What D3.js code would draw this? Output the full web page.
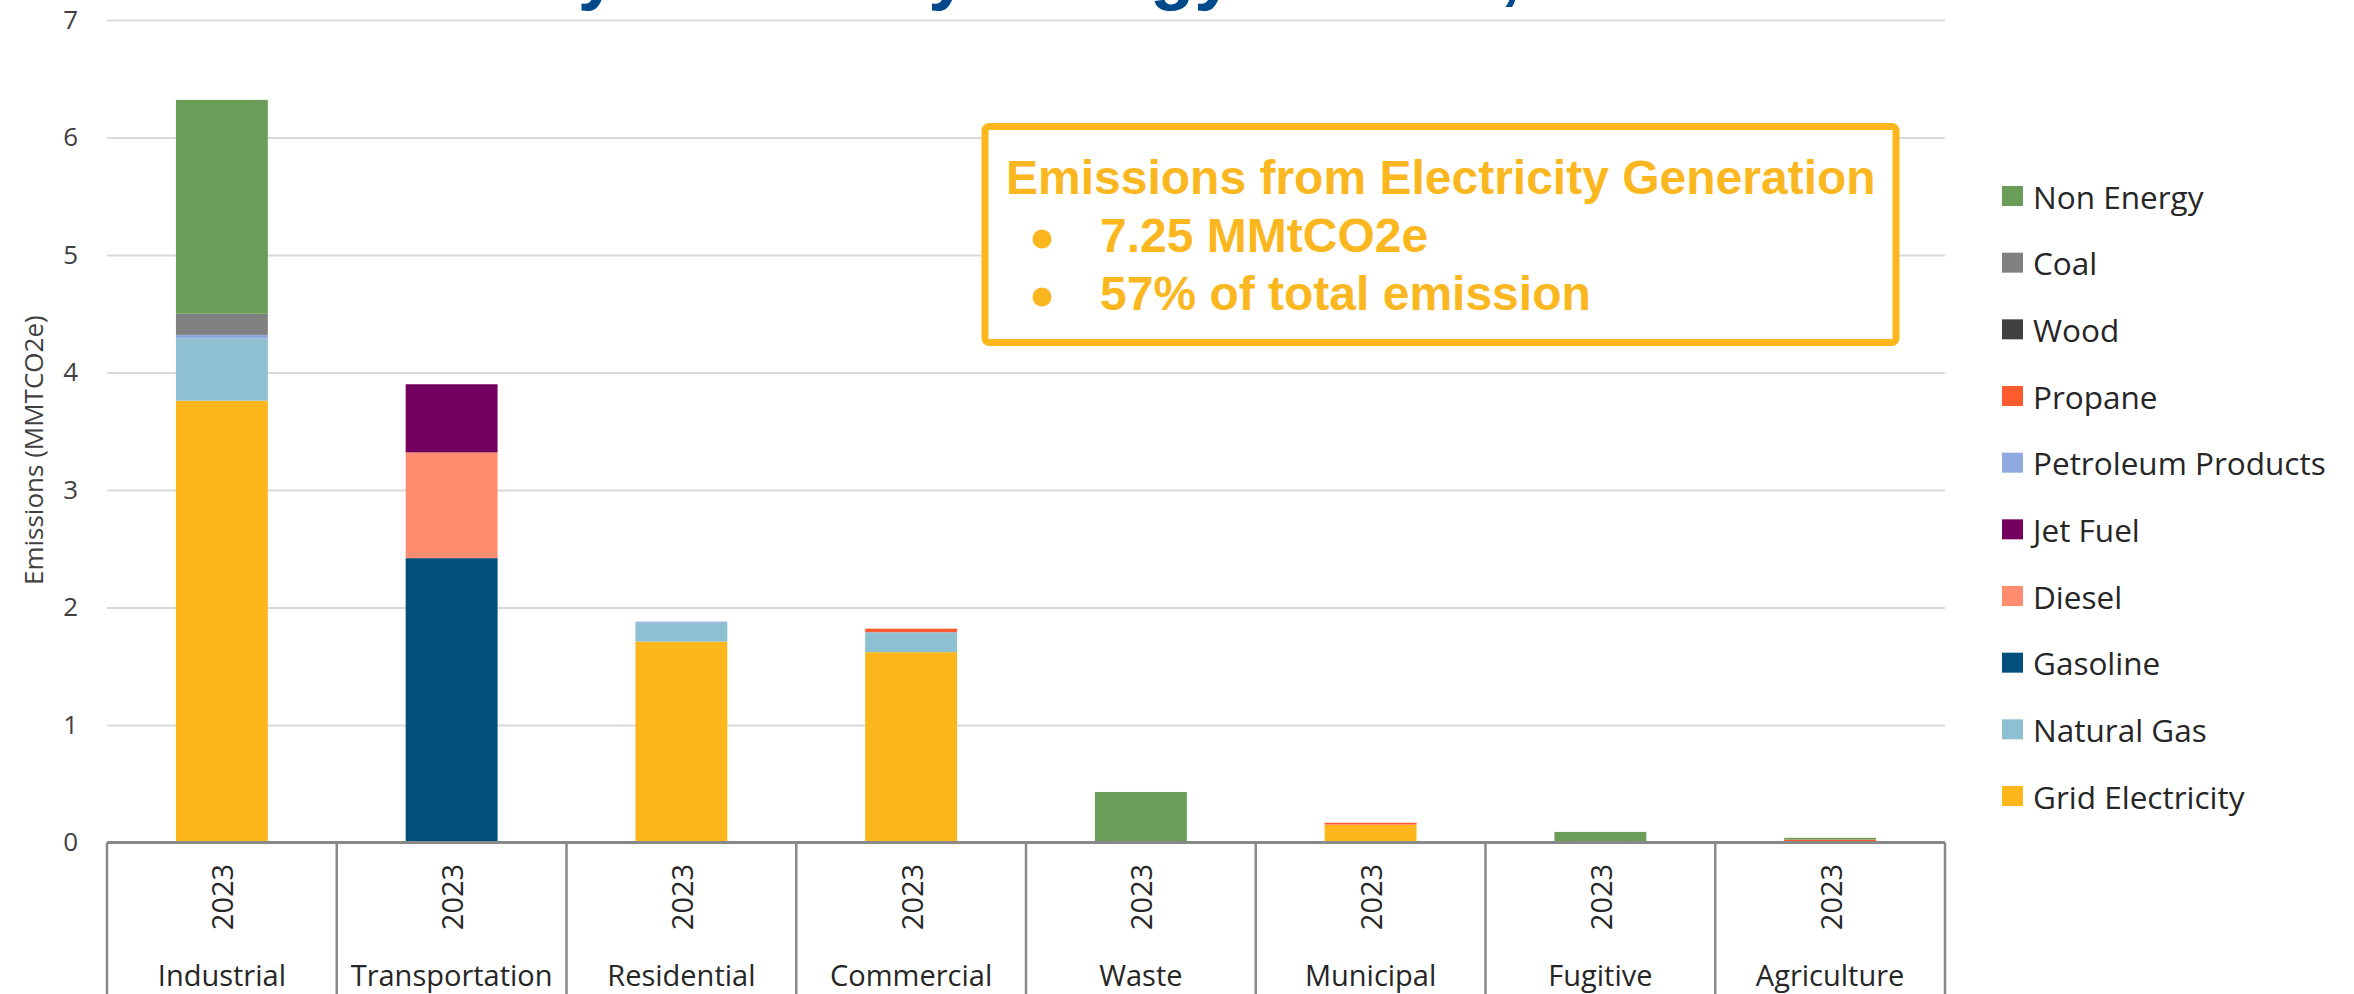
<!DOCTYPE html>
<html>
<head>
	<title>Emissions by Sector</title>
	<script src="https://cdn.jsdelivr.net/npm/d3@7"></script>
</head>

<style type="text/css">
    body {
        margin: 0;
        background: #fff;
    }
</style>

<body>
    <div id='chart'></div>

    <script type="text/javascript">
        // categories and tick labels
        var categories = ['Industrial','Transportation','Residential','Commercial','Waste','Municipal','Fugitive','Agriculture'];
        var yearLabels = ['2023','2023','2023','2023','2023','2023','2023','2023'];
        var yTicks = [0,1,2,3,4,5,6,7];

        // series values (MMTCO2e), stacked bottom to top
        var gridElectricity = [3.76, 0, 1.71, 1.62, 0, 0.15, 0, 0];
        var naturalGas      = [0.53, 0, 0.16, 0.165, 0, 0, 0, 0];
        var gasoline        = [0, 2.42, 0, 0, 0, 0, 0, 0];
        var diesel          = [0, 0.90, 0, 0, 0, 0.003, 0, 0];
        var jetFuel         = [0, 0.58, 0, 0, 0, 0, 0, 0];
        var petroleum       = [0.03, 0, 0.01, 0.005, 0, 0, 0, 0];
        var propane         = [0, 0, 0, 0.03, 0, 0.015, 0, 0.025];
        var wood            = [0, 0, 0, 0, 0, 0, 0, 0];
        var coal            = [0.18, 0, 0, 0, 0, 0, 0, 0];
        var nonEnergy       = [1.82, 0, 0, 0, 0.43, 0, 0.09, 0.015];

        var seriesNames  = ['Grid Electricity','Natural Gas','Gasoline','Diesel','Jet Fuel','Petroleum Products','Propane','Wood','Coal','Non Energy'];
        var seriesValues = [gridElectricity, naturalGas, gasoline, diesel, jetFuel, petroleum, propane, wood, coal, nonEnergy];
        var seriesColors = ['#fdb71c','#8dc0d0','#004f7c','#ff8c6e','#73005e','#8eaadf','#ff5b2e','#404040','#808080','#6a9e58'];

        var noteTitle = 'Emissions from Electricity Generation';
        var noteLines = ['7.25 MMtCO2e','57% of total emission'];
        var chartTitle = 'Emissions by Sector by Energy Source, 2023';

        var width = 2354;
        var height = 994;

        // build table for stack
        var table = categories.map(function(c,i){
            var row = {category: c};
            seriesNames.forEach(function(s,j){ row[s] = seriesValues[j][i]; });
            return row;
        });
        var stacked = d3.stack().keys(seriesNames)(table);

        var svg = d3.select('#chart').append('svg')
            .attr('width',width)
            .attr('height',height)
            .style('display','block')
            .style('background','#fff');

        //Set Y Scale
        var y = d3.scaleLinear()
            .domain([0,7])
            .range([842.5, 20]);

        //Set X Scales
        var x = d3.scaleBand()
            .domain(categories)
            .range([107, 1945])
            .paddingInner(0.6)
            .paddingOuter(0.3);

        var xCat = d3.scaleBand()
            .domain(categories)
            .range([107, 1945]);

        var color = d3.scaleOrdinal()
            .domain(seriesNames)
            .range(seriesColors);

        // title, mostly cut off by the top edge (only descenders show)
        var titleSize = 72.5;
        var title = svg.append('text')
            .attr('font-family','Liberation Sans, Arial, sans-serif')
            .attr('font-weight','bold')
            .attr('font-size',titleSize)
            .attr('fill','#004a8c')
            .attr('x',0)
            .attr('y',11 - 0.21*titleSize)
            .text(chartTitle);
        var e1 = title.node().getExtentOfChar(chartTitle.indexOf('y'));
        title.attr('x', 598 - (e1.x + e1.width/2));

        // gridlines
        svg.append('g')
            .attr('transform','translate(107,0)')
            .call(d3.axisLeft(y).tickValues(yTicks.slice(1)).tickSize(-(1945-107)).tickFormat(''))
            .call(function(g){
                g.select('.domain').remove();
                g.selectAll('line').attr('stroke','#d9d9d9').attr('stroke-width',2);
            });

        // y tick labels
        svg.append('g')
            .attr('transform','translate(78,0)')
            .call(d3.axisLeft(y).tickValues(yTicks).tickSize(0).tickPadding(0).tickFormat(d3.format('d')))
            .call(function(g){
                g.select('.domain').remove();
                g.selectAll('text')
                    .attr('font-family','Open Sans, sans-serif')
                    .attr('font-size',26)
                    .attr('fill','#404040');
            });

        // y axis title
        svg.append('text')
            .attr('transform','translate(33,585) rotate(-90)')
            .attr('text-anchor','start')
            .attr('dominant-baseline','central')
            .attr('font-family','Open Sans, sans-serif')
            .attr('font-size',26)
            .attr('fill','#404040')
            .text('Emissions (MMTCO2e)');

        // stacked bars
        svg.append('g').selectAll('g')
            .data(stacked)
            .enter().append('g')
                .attr('fill', function(d){ return color(d.key); })
            .selectAll('rect')
            .data(function(d){ return d; })
            .enter().append('rect')
                .attr('x', function(d){ return x(d.data.category); })
                .attr('width', x.bandwidth())
                .attr('y', function(d){ return y(d[1]); })
                .attr('height', function(d){ return y(d[0]) - y(d[1]); });

        // category axis box
        var catAxis = svg.append('g');
        catAxis.append('line')
            .attr('x1',107).attr('x2',1945)
            .attr('y1',y(0)).attr('y2',y(0))
            .attr('stroke','#898989').attr('stroke-width',3);
        catAxis.selectAll('.div')
            .data(categories.map(function(c){ return xCat(c); }).concat([1945]))
            .enter().append('line')
                .attr('x1',function(d){ return d; })
                .attr('x2',function(d){ return d; })
                .attr('y1',y(0)).attr('y2',height)
                .attr('stroke','#898989').attr('stroke-width',2.5);
        catAxis.selectAll('.yr')
            .data(categories)
            .enter().append('text')
                .attr('transform',function(d){ return 'translate(' + (xCat(d) + xCat.bandwidth()/2) + ',897) rotate(-90)'; })
                .attr('text-anchor','middle')
                .attr('dominant-baseline','central')
                .attr('font-family','Open Sans, sans-serif')
                .attr('font-size',29)
                .attr('fill','#262626')
                .text(function(d,i){ return yearLabels[i]; });
        catAxis.selectAll('.cat')
            .data(categories)
            .enter().append('text')
                .attr('x',function(d){ return xCat(d) + xCat.bandwidth()/2; })
                .attr('y',986)
                .attr('text-anchor','middle')
                .attr('font-family','Open Sans, sans-serif')
                .attr('font-size',29)
                .attr('fill','#262626')
                .text(function(d){ return d; });

        // legend (top to bottom reversed)
        var legendNames = seriesNames.slice().reverse();
        var legendY = d3.scalePoint()
            .domain(legendNames)
            .range([196, 796]);
        var legend = svg.append('g').selectAll('g')
            .data(legendNames)
            .enter().append('g')
                .attr('transform',function(d){ return 'translate(2002,' + legendY(d) + ')'; });
        legend.append('rect')
            .attr('x',0).attr('y',-10)
            .attr('width',21).attr('height',20)
            .attr('fill',function(d){ return color(d); });
        legend.append('text')
            .attr('x',31)
            .attr('dominant-baseline','central')
            .attr('font-family','Open Sans, sans-serif')
            .attr('font-size',31.5)
            .attr('fill','#262626')
            .text(function(d){ return d; });

        // annotation box
        var note = svg.append('g');
        note.append('rect')
            .attr('x',985).attr('y',126.5)
            .attr('width',911).attr('height',216)
            .attr('rx',4)
            .attr('fill','#fff')
            .attr('stroke','#fdb71c')
            .attr('stroke-width',7);
        note.append('text')
            .attr('x',1006).attr('y',194)
            .attr('font-family','Liberation Sans, Arial, sans-serif')
            .attr('font-weight','bold')
            .attr('font-size',48)
            .attr('fill','#fbb720')
            .text(noteTitle);
        noteLines.forEach(function(t,i){
            var base = 252 + i*58;
            note.append('circle')
                .attr('cx',1042).attr('cy',base - 13)
                .attr('r',9.5)
                .attr('fill','#fbb720');
            note.append('text')
                .attr('x',1100).attr('y',base)
                .attr('font-family','Liberation Sans, Arial, sans-serif')
                .attr('font-weight','bold')
                .attr('font-size',48)
                .attr('fill','#fbb720')
                .text(t);
        });
    </script>
</body>
</html>
